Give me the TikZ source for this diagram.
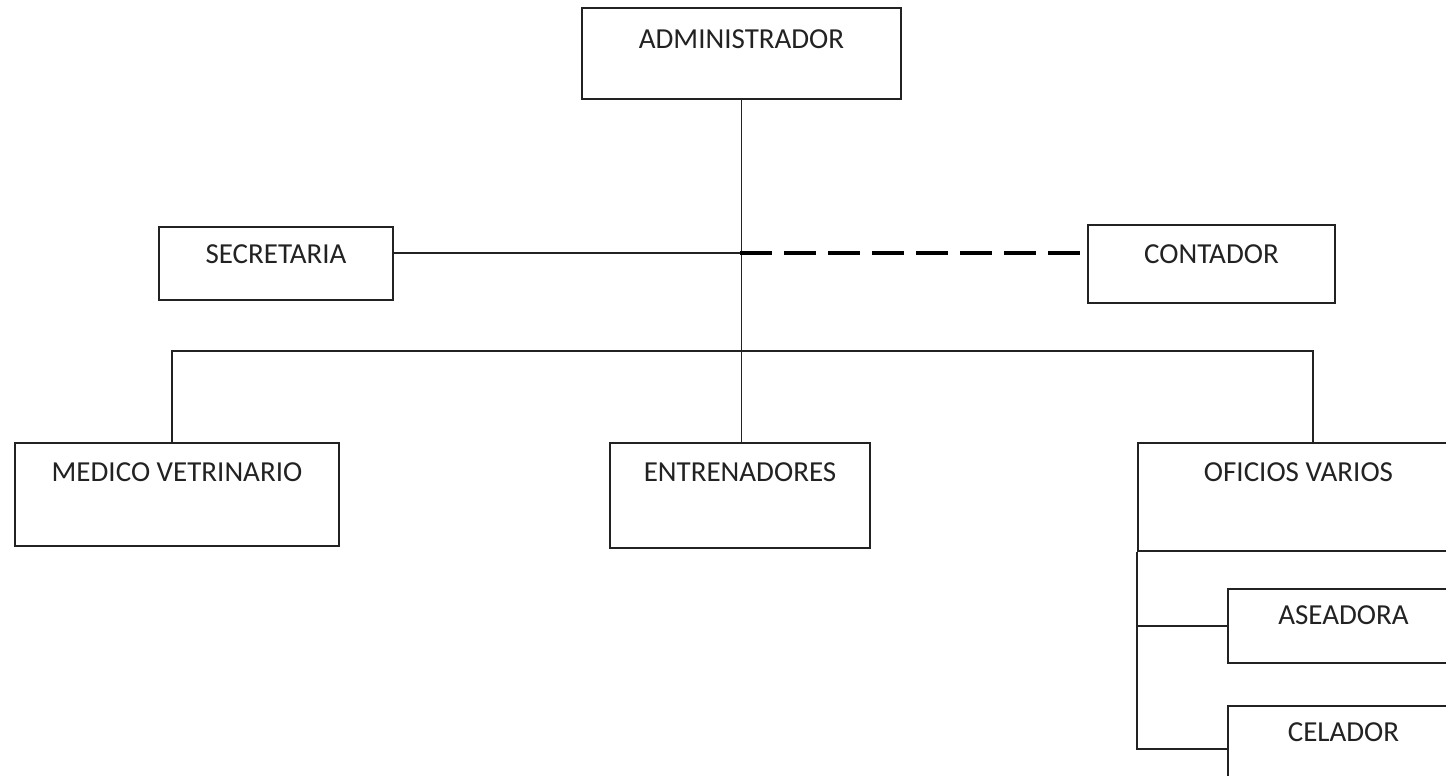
\documentclass[tikz,border=0pt]{standalone}
\usepackage{fontspec}
\setmainfont{Carlito}
\usetikzlibrary{positioning}
\definecolor{tinta}{RGB}{34,34,34}

\begin{document}
\begin{tikzpicture}[
    x=1pt, y=-1pt,
    puesto/.style={draw=tinta, line width=2pt, inner sep=0pt, anchor=north west,
      text=tinta, font=\fontsize{29}{35}\selectfont},
    linea/.style={draw=tinta, line width=1.8pt},
    punteada/.style={draw=black, line width=4pt, dash pattern=on 32pt off 12pt}
]
\path[use as bounding box, clip] (0,0) rectangle (1446,776);

% Top
\node[puesto, minimum width=319pt, text height=41pt, text depth=50pt] (admin) at (581,7) {ADMINISTRADOR};

% Staff
\node[puesto, minimum width=234pt, text height=36pt, text depth=37pt] (secretaria) at (158,226) {SECRETARIA};
\node[puesto, minimum width=247pt, text height=38pt, text depth=40pt] (contador) at (1087,224) {CONTADOR};

% Second level
\node[puesto, minimum width=324pt, text height=38pt, text depth=65pt] (medico) at (14,442) {MEDICO VETRINARIO};
\node[puesto, minimum width=260pt, text height=38pt, text depth=67pt] (entrenadores) at (609,442) {ENTRENADORES};
\node[puesto, minimum width=321pt, text height=38pt, text depth=70pt] (oficios) at (1137,442) {OFICIOS VARIOS};

% Under oficios varios
\node[puesto, minimum width=231pt, text height=35pt, text depth=39pt] (aseadora) at (1227,588) {ASEADORA};
\node[puesto, minimum width=231pt, text height=35pt, text depth=51pt] (celador) at (1227,705) {CELADOR};

% Branch points
\coordinate (eje) at (740,253);
\coordinate (rama) at (740,351);
\coordinate (bMed) at (172,351);
\coordinate (bOfi) at (1313,351);

% Lines
\draw[linea] (admin.south) -- (admin.south |- entrenadores.north);
\draw[linea] (secretaria.east |- eje) -- (eje);
\draw[punteada] (eje) -- (eje -| contador.west);
\draw[linea] (medico.north -| bMed) -- (bMed) -- (bOfi) -- (oficios.north -| bOfi);
\draw[linea] (oficios.south west) |- (celador.west);
\draw[linea] (oficios.south west |- aseadora.west) -- (aseadora.west);

\end{tikzpicture}
\end{document}
